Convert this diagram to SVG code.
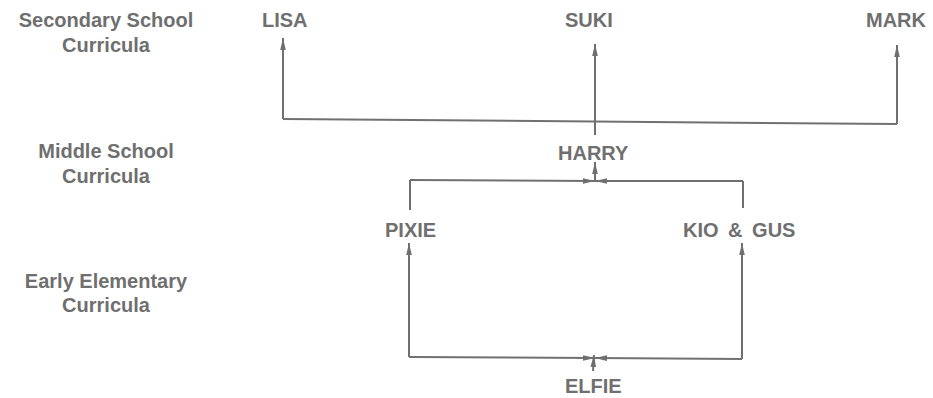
<svg xmlns="http://www.w3.org/2000/svg" width="933" height="398" viewBox="0 0 933 398">
<defs>
<marker id="ah" viewBox="0 0 12 8" refX="12" refY="4" markerWidth="12" markerHeight="8" markerUnits="userSpaceOnUse" orient="auto">
<path d="M0,1.2 L12,4 L0,6.8 Z" fill="#6f6f6f"/>
</marker>
<style>
text{font-family:"Liberation Sans",Arial,sans-serif;font-weight:bold;font-size:20px;fill:#6f6f6f}
.lvl{text-anchor:middle}
.c line,.c path{stroke:#707070;stroke-width:2;fill:none}
</style>
</defs>
<rect width="933" height="398" fill="#fff"/>
<g id="levels">
<text class="lvl" x="106" y="27">Secondary School</text>
<text class="lvl" x="106" y="52">Curricula</text>
<text class="lvl" x="106" y="158">Middle School</text>
<text class="lvl" x="106" y="183">Curricula</text>
<text class="lvl" x="106" y="288">Early Elementary</text>
<text class="lvl" x="106" y="312">Curricula</text>
</g>
<g id="lisa"><text x="262" y="27">LISA</text></g>
<g id="suki"><text x="565" y="27">SUKI</text></g>
<g id="mark"><text x="866" y="27">MARK</text></g>
<g id="harry"><text x="558" y="160">HARRY</text></g>
<g id="pixie"><text x="385" y="237">PIXIE</text></g>
<g id="kiogus"><text x="683" y="237" style="word-spacing:4px">KIO &amp; GUS</text></g>
<g id="elfie"><text x="565" y="393">ELFIE</text></g>
<g class="c" id="connectors">
<path d="M283,119 L897,124"/>
<line x1="283" y1="119" x2="283" y2="38" marker-end="url(#ah)"/>
<line x1="897" y1="124" x2="897" y2="45" marker-end="url(#ah)"/>
<line x1="595" y1="135" x2="595" y2="44" marker-end="url(#ah)"/>
<line x1="410" y1="210" x2="410" y2="180"/>
<line x1="410" y1="180" x2="595" y2="181" marker-end="url(#ah)"/>
<line x1="743" y1="208" x2="743" y2="181"/>
<line x1="743" y1="181" x2="595" y2="181" marker-end="url(#ah)"/>
<line x1="595" y1="181" x2="595" y2="162" marker-end="url(#ah)"/>
<line x1="409" y1="357" x2="409" y2="243" marker-end="url(#ah)"/>
<line x1="742" y1="359" x2="742" y2="243" marker-end="url(#ah)"/>
<line x1="409" y1="357" x2="595" y2="358" marker-end="url(#ah)"/>
<line x1="742" y1="359" x2="595" y2="358" marker-end="url(#ah)"/>
<line x1="593" y1="371" x2="594" y2="355" marker-end="url(#ah)"/>
</g>
</svg>
